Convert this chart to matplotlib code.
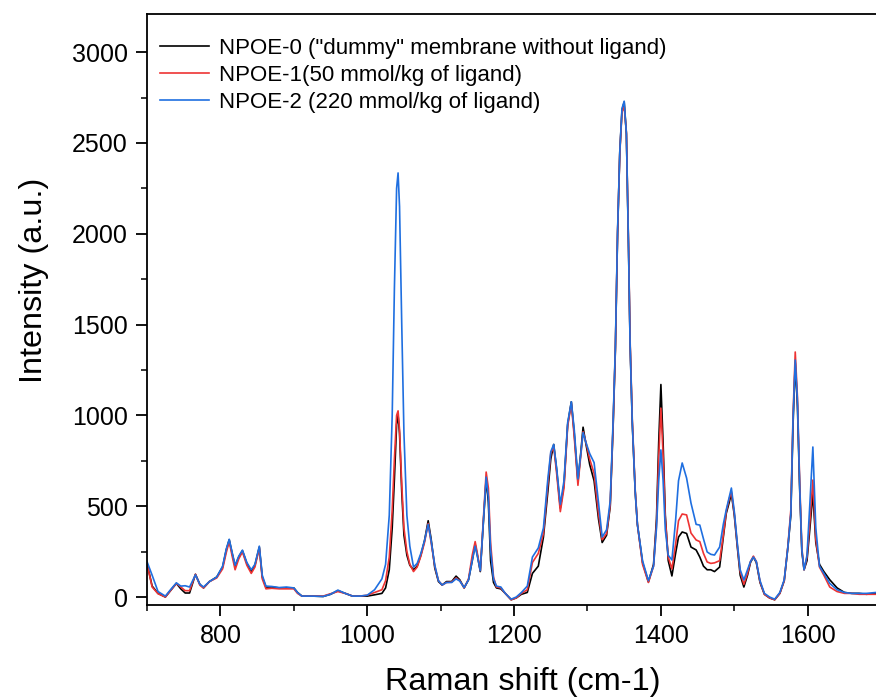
import matplotlib
matplotlib.use("Agg")
import matplotlib.pyplot as plt
from matplotlib.ticker import MultipleLocator

plt.rcParams['font.family'] = ['Liberation Sans', 'DejaVu Sans']

labels = ['NPOE-0 ("dummy" membrane without ligand)',
          'NPOE-1(50 mmol/kg of ligand)',
          'NPOE-2 (220 mmol/kg of ligand)']

shift = [700, 707, 715, 725, 732, 740, 746, 752, 758, 766,
         772, 777, 785, 795, 803, 808, 812, 816, 820, 825,
         830, 836, 842, 847, 853, 857, 862, 870, 880, 890,
         900, 905, 911, 925, 940, 950, 960, 970, 980, 990,
         1000, 1010, 1020, 1025, 1030, 1034, 1037, 1040, 1042, 1044,
         1047, 1050, 1054, 1058, 1063, 1068, 1073, 1078, 1083, 1087,
         1092, 1097, 1102, 1108, 1115, 1121, 1126, 1132, 1138, 1143,
         1147, 1150, 1154, 1158, 1162, 1165, 1168, 1172, 1176, 1182,
         1188, 1196, 1203, 1210, 1218, 1225, 1233, 1240, 1246, 1250,
         1254, 1258, 1263, 1268, 1273, 1278, 1282, 1287, 1291, 1294,
         1298, 1303, 1309, 1315, 1320, 1326, 1331, 1335, 1338, 1341,
         1344, 1347, 1350, 1353, 1356, 1358, 1361, 1365, 1368, 1375,
         1383, 1390, 1394, 1397, 1400, 1403, 1406, 1410, 1415, 1420,
         1424, 1429, 1435, 1441, 1448, 1453, 1458, 1463, 1468, 1473,
         1480, 1485, 1489, 1493, 1496, 1500, 1504, 1508, 1513, 1518,
         1522, 1526, 1530, 1535, 1541, 1548, 1555, 1562, 1568, 1573,
         1577, 1580, 1583, 1586, 1589, 1592, 1595, 1599, 1603, 1607,
         1611, 1616, 1622, 1630, 1640, 1650, 1660, 1670, 1680, 1693]

npoe0 = [185, 60, 20, 0, 35, 75, 45, 22, 22, 125,
         70, 50, 85, 110, 165, 260, 315, 240, 170, 220,
         255, 185, 140, 175, 275, 110, 55, 55, 50, 50,
         50, 25, 5, 5, 3, 15, 35, 20, 5, 5,
         5, 12, 20, 50, 150, 380, 650, 950, 1000, 900,
         580, 340, 230, 175, 150, 170, 230, 310, 420, 320,
         160, 85, 66, 85, 85, 115, 95, 50, 95, 200,
         290, 230, 140, 400, 650, 520, 200, 80, 50, 45,
         20, -15, -5, 15, 25, 130, 170, 330, 580, 760,
         840, 700, 490, 620, 950, 1075, 900, 635, 800, 935,
         840, 730, 640, 430, 300, 340, 500, 950, 1360, 2000,
         2450, 2680, 2725, 2550, 1900, 1400, 960, 580, 400, 190,
         83, 180, 430, 850, 1170, 850, 450, 200, 116, 240,
         330, 358, 350, 275, 259, 220, 170, 150, 150, 140,
         165, 330, 460, 520, 570, 450, 280, 120, 55, 120,
         190, 220, 190, 80, 15, -5, -15, 20, 90, 275,
         450, 950, 1290, 1050, 600, 250, 150, 200, 380, 572,
         300, 180, 140, 95, 50, 25, 20, 20, 15, 20]

npoe1 = [185, 55, 18, 0, 35, 75, 55, 35, 35, 125,
         65, 50, 85, 105, 155, 245, 305, 225, 150, 210,
         248, 175, 130, 165, 270, 100, 45, 48, 45, 45,
         45, 20, 5, 5, 5, 18, 30, 20, 5, 5,
         10, 25, 40, 90, 220, 480, 760, 1000, 1025, 920,
         620, 380, 250, 180, 140, 165, 225, 300, 405, 300,
         170, 90, 66, 80, 82, 105, 90, 50, 100, 230,
         305, 240, 145, 420, 688, 600, 300, 110, 55, 50,
         20, -15, -5, 20, 40, 190, 240, 350, 620, 790,
         830, 680, 470, 600, 940, 1065, 880, 615, 780, 910,
         850, 760, 680, 460, 315, 350, 510, 960, 1370, 2010,
         2440, 2670, 2700, 2560, 1920, 1420, 980, 590, 400, 180,
         80, 170, 400, 760, 1040, 780, 430, 220, 154, 290,
         420, 457, 452, 352, 314, 305, 240, 193, 185, 188,
         200, 340, 470, 540, 580, 460, 290, 140, 70, 130,
         195, 225, 195, 85, 15, -5, -15, 20, 90, 280,
         480, 1000, 1349, 1100, 640, 270, 150, 220, 420, 644,
         320, 165, 120, 55, 30, 20, 20, 15, 15, 15]

npoe2 = [195, 120, 30, 5, 40, 78, 60, 62, 55, 122,
         70, 55, 85, 110, 170, 265, 318, 245, 175, 225,
         258, 190, 150, 180, 280, 120, 60, 58, 52, 55,
         50, 25, 5, 5, 3, 15, 38, 20, 5, 5,
         10, 40, 100, 180, 450, 1000, 1700, 2250, 2335, 2150,
         1500, 900, 450, 280, 165, 185, 240, 310, 400, 310,
         175, 90, 66, 80, 80, 100, 88, 52, 95, 200,
         280, 225, 145, 400, 660, 550, 260, 100, 60, 55,
         20, -12, 0, 25, 60, 220, 270, 380, 650, 800,
         840, 710, 510, 640, 960, 1075, 920, 650, 790, 905,
         850, 790, 740, 520, 330, 370, 530, 980, 1380, 2020,
         2450, 2690, 2730, 2550, 1900, 1400, 960, 580, 400, 200,
         90, 170, 380, 640, 810, 640, 370, 230, 204, 420,
         640, 738, 655, 517, 400, 396, 320, 248, 235, 231,
         275, 400, 480, 550, 600, 470, 300, 150, 94, 150,
         195, 220, 195, 90, 20, 0, -12, 25, 95, 275,
         460, 980, 1305, 1080, 620, 260, 150, 230, 520, 826,
         380, 170, 130, 75, 40, 25, 20, 20, 20, 25]

colors = ['#000000', '#ee3333', '#1f6fe0']

fig = plt.figure(figsize=(8.76, 6.98), dpi=100)
ax = fig.add_axes([147/876, 1-605/698, 1-147/876, (605-14)/698])

for ys, c, lab in zip([npoe0, npoe1, npoe2], colors, labels):
    ax.plot(shift, ys, color=c, lw=1.2, label=lab)

ax.set_xlim(700, 1693)
ax.set_ylim(-44, 3210)
ax.xaxis.set_major_locator(MultipleLocator(200))
ax.xaxis.set_minor_locator(MultipleLocator(100))
ax.yaxis.set_major_locator(MultipleLocator(500))
ax.yaxis.set_minor_locator(MultipleLocator(250))
ax.tick_params(which='major', direction='out', length=8, width=1.3, labelsize=18, pad=6)
ax.tick_params(which='minor', direction='out', length=4, width=1.1)
ax.spines['right'].set_visible(False)
for s in ['left', 'bottom', 'top']:
    ax.spines[s].set_linewidth(1.3)

ax.set_xlabel('Raman shift (cm-1)', fontsize=23.3)
ax.xaxis.set_label_coords(0.516, -0.105)
ax.set_ylabel('Intensity (a.u.)', fontsize=23.3)
ax.yaxis.set_label_coords(-0.1345, 0.55)

ax.legend(loc='upper left', bbox_to_anchor=(0.018, 0.96), frameon=False,
          fontsize=16.0, handlelength=2.2, handletextpad=0.45,
          labelspacing=0.28, borderpad=0, borderaxespad=0)

fig.savefig('out.png', dpi=100)
